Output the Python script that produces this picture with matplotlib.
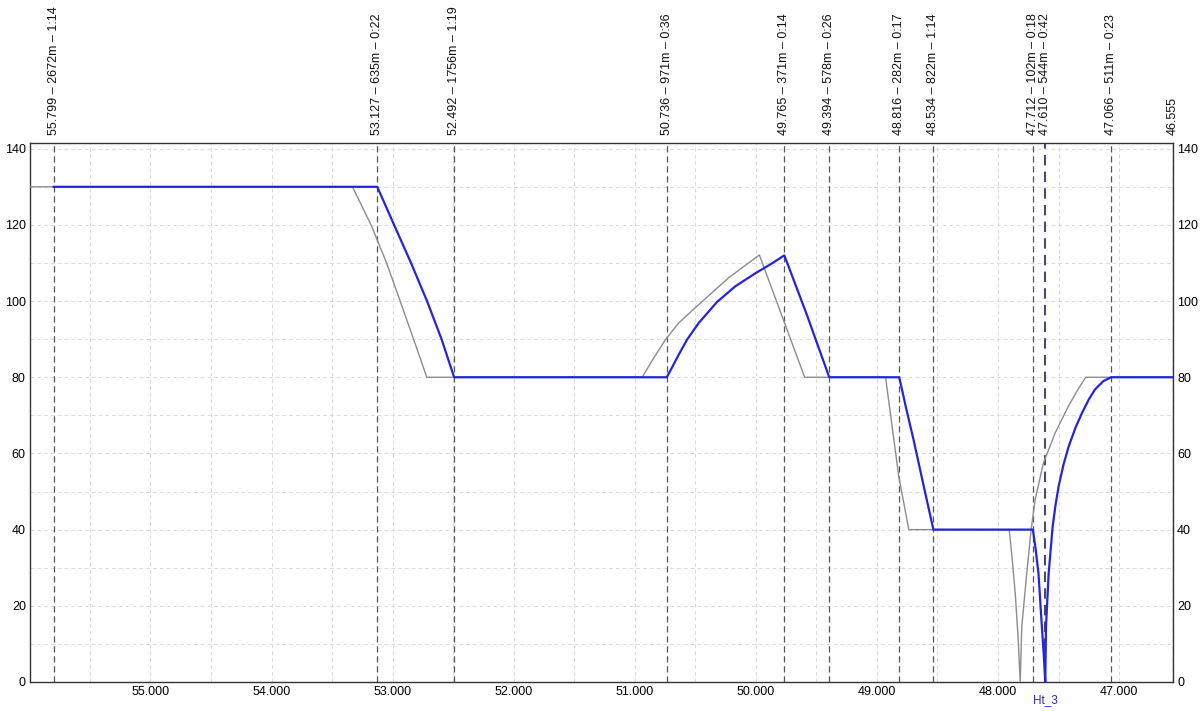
import matplotlib
matplotlib.use("Agg")
import matplotlib.pyplot as plt
from matplotlib.ticker import MultipleLocator, FormatStrFormatter

plt.rcParams['font.family'] = ['Liberation Sans', 'DejaVu Sans']

# stations (km) with distance / running time to next
stations = [55.799, 53.127, 52.492, 50.736, 49.765, 49.394, 48.816, 48.534,
            47.712, 47.610, 47.066, 46.555]
dists = ['2672m', '635m', '1756m', '971m', '371m', '578m', '282m', '822m',
         '102m', '544m', '511m', None]
times = ['1:14', '0:22', '1:19', '0:36', '0:14', '0:26', '0:17', '1:14',
         '0:18', '0:42', '0:23', None]

# blue run curve (km, km/h)
blue_km = [55.799, 53.127, 52.988, 52.848, 52.716, 52.596, 52.492,
           50.736, 50.692, 50.636, 50.568, 50.471, 50.320, 50.169, 50.004,
           49.867, 49.765, 49.580, 49.394,
           48.816, 48.760, 48.698, 48.601, 48.534,
           47.712, 47.690, 47.666, 47.638, 47.622, 47.610,
           47.604, 47.582, 47.549, 47.525, 47.500, 47.460, 47.417, 47.360,
           47.307, 47.250, 47.199, 47.130, 47.066, 46.555]
blue_v = [130, 130, 120, 110, 100, 90, 80,
          80, 82.6, 86.0, 89.9, 94.3, 99.8, 103.9, 107.3,
          109.9, 112, 96.5, 80,
          80, 72, 63.6, 49.6, 40,
          40, 35, 28.5, 14.5, 7, 0,
          14.5, 28.5, 40.8, 46.5, 51.3, 57, 61.8, 66.8,
          70.6, 74.2, 76.8, 79.0, 80, 80]

# grey run curve (km, km/h)
gray_km = [56.05, 53.332, 53.178, 53.050, 52.938, 52.827, 52.718,
           50.939, 50.843, 50.746, 50.636, 50.499, 50.362, 50.222, 50.086,
           49.971, 49.597,
           48.929, 48.820, 48.737,
           47.908, 47.885, 47.858, 47.835, 47.817,
           47.804, 47.763, 47.727, 47.694, 47.625, 47.528, 47.419, 47.340,
           47.276, 46.555]
gray_v = [130, 130, 120, 110, 100, 90, 80,
          80, 85.1, 89.9, 94.3, 98.3, 102.2, 106.2, 109.4,
          112.1, 80,
          80, 54, 40,
          40, 33, 23.3, 12, 0,
          14.5, 28.5, 39.9, 47.8, 57.5, 65.4, 72.4, 76.8,
          80, 80]

marker_name = 'Ht_3'
marker_km = 47.610

fig = plt.figure(figsize=(12.03, 7.11), dpi=100)
ax = fig.add_axes([30 / 1203, 29 / 711, 1143 / 1203, 539 / 711])

ax.set_xlim(55.995, 46.555)
ax.set_ylim(0, 141.5)

ax.xaxis.set_major_locator(MultipleLocator(1.0))
ax.xaxis.set_minor_locator(MultipleLocator(0.5))
ax.xaxis.set_major_formatter(FormatStrFormatter('%.3f'))
ax.yaxis.set_major_locator(MultipleLocator(20))
ax.yaxis.set_minor_locator(MultipleLocator(10))
ax.grid(which='both', color='#dadada', linestyle=(0, (4, 3)), linewidth=0.7)
ax.set_axisbelow(True)

ax.tick_params(which='both', length=0)
ax.tick_params(axis='x', pad=3, labelsize=9)
ax.tick_params(axis='y', pad=3, labelsize=9, labelleft=True, labelright=True)

for sp in ax.spines.values():
    sp.set_color('#333333')
    sp.set_linewidth(1.0)

# station lines and labels
for km, d, t in zip(stations, dists, times):
    if km == marker_km:
        ax.axvline(km, color='#4a4a70', linestyle=(0, (5, 3)), linewidth=1.5, zorder=2)
    else:
        ax.axvline(km, color='#555555', linestyle=(0, (5, 3)), linewidth=0.9, zorder=2)
    if d is None:
        label = '%.3f' % km
    else:
        label = '%.3f \u2013 %s \u2013 %s' % (km, d, t)
    ax.annotate(label, xy=(km, 1), xycoords=('data', 'axes fraction'),
                xytext=(0, 6), textcoords='offset points',
                rotation=90, ha='center', va='bottom', fontsize=9,
                color='#111111', annotation_clip=False)

ax.plot(gray_km, gray_v, color='#8c8c8c', linewidth=1.0, zorder=3)
ax.plot(blue_km, blue_v, color='#2424e0', linewidth=1.6, zorder=4)

ax.annotate(marker_name, xy=(marker_km, 0), xycoords=('data', 'axes fraction'),
            xytext=(0, -13), textcoords='offset points', ha='center', va='center',
            fontsize=8.5, color='#2a2ad0', annotation_clip=False)

fig.savefig('out.png', dpi=100)
